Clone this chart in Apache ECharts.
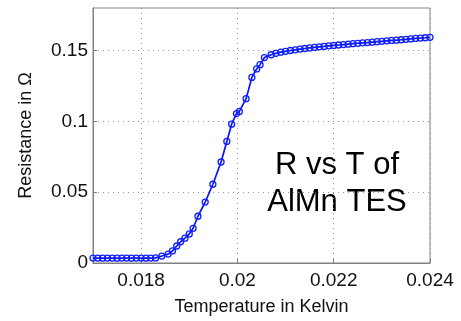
<!DOCTYPE html>
<html>
<head>
<meta charset="utf-8">
<script src="https://cdn.jsdelivr.net/npm/echarts@6/dist/echarts.min.js"></script>
<style>html,body{margin:0;padding:0;background:#fff}#c{width:461px;height:321px}</style>
</head>
<body>
<div id="c"></div>
<script>
// Temperature (K) and resistance (Ohm)
const temperature = [
  0.0170,0.0171,0.0172,0.0173,0.0174,0.0175,0.0176,0.0177,0.0178,0.0179,0.0180,0.0181,0.0182,0.0183,
  0.01843,0.01856,0.01865,0.01874,0.01882,0.01891,0.01900,0.01908,0.01918,0.01933,0.01949,0.01966,
  0.01978,0.01988,0.01998,0.02004,0.02018,0.02030,0.02040,0.02047,0.02056,
  0.0207,0.0208,0.0209,0.0210,0.0211,0.0212,0.0213,0.0214,0.0215,0.0216,0.0217,0.0218,0.0219,0.0220,
  0.0221,0.0222,0.0223,0.0224,0.0225,0.0226,0.0227,0.0228,0.0229,0.0230,0.0231,0.0232,0.0233,0.0234,
  0.0235,0.0236,0.0237,0.0238,0.0239,0.0240
];
const resistance = [
  0.0035,0.0035,0.0034,0.0035,0.0035,0.0034,0.0035,0.0035,0.0034,0.0035,0.0035,0.0034,0.0035,0.0036,
  0.0049,0.0063,0.0085,0.0120,0.0150,0.0175,0.0205,0.0245,0.0330,0.0430,0.0556,0.0713,
  0.0858,0.0980,0.1055,0.1070,0.1160,0.1310,0.1370,0.1400,0.1450,
  0.1470,0.1480,0.1488,0.1494,0.1500,0.1505,0.1510,0.1514,0.1518,0.1522,0.1526,0.1529,0.1533,0.1536,
  0.1539,0.1542,0.1545,0.1548,0.1551,0.1554,0.1556,0.1559,0.1562,0.1565,0.1568,0.1571,0.1573,0.1576,
  0.1579,0.1582,0.1585,0.1588,0.1590,0.1593
];
const xTicks = [0.018, 0.020, 0.022, 0.024];
const yTicks = [0, 0.05, 0.1, 0.15];

const points = temperature.map((t, i) => [t, resistance[i]]);
const font = 'Liberation Sans, Arial, sans-serif';
const chart = echarts.init(document.getElementById('c'), null, {renderer: 'canvas'});
chart.setOption({
  animation: false,
  backgroundColor: '#fff',
  grid: {left: 93, right: 31, top: 8, bottom: 56, show: true, borderColor: '#808080', borderWidth: 1, backgroundColor: '#fff'},
  xAxis: {
    type: 'value', min: 0.017, max: 0.024,
    name: 'Temperature in Kelvin', nameLocation: 'middle', nameGap: 35,
    nameTextStyle: {fontFamily: font, fontSize: 18, color: '#111'},
    axisLine: {show: true, lineStyle: {color: '#808080'}},
    axisTick: {show: true, inside: true, length: 4, customValues: xTicks, lineStyle: {color: '#808080'}},
    axisLabel: {customValues: xTicks, fontFamily: font, fontSize: 19, color: '#111', margin: 8,
      formatter: v => String(+v.toFixed(3))},
    splitLine: {show: true, lineStyle: {type: [1, 4], color: '#999'}}
  },
  yAxis: {
    type: 'value', min: 0, max: 0.18,
    name: 'Resistance in \u03A9', nameLocation: 'middle', nameGap: 58,
    nameTextStyle: {fontFamily: font, fontSize: 18, color: '#111'},
    axisLine: {show: true, lineStyle: {color: '#808080'}},
    axisTick: {show: true, inside: true, length: 4, customValues: yTicks, lineStyle: {color: '#808080'}},
    axisLabel: {customValues: yTicks, fontFamily: font, fontSize: 19, color: '#111', margin: 5,
      formatter: v => String(+v.toFixed(2))},
    splitLine: {show: true, lineStyle: {type: [1, 4], color: '#999'}}
  },
  series: [{
    type: 'line', data: points,
    symbol: 'circle', symbolSize: 6,
    lineStyle: {color: '#0a14ff', width: 1.7},
    itemStyle: {color: 'rgba(0,0,0,0)', borderColor: '#1020ff', borderWidth: 1.3}
  }],
  graphic: [{
    type: 'text', x: 337, y: 147,
    style: {text: 'R vs T of\nAlMn TES', font: '31px ' + font, fill: '#000', lineHeight: 37, align: 'center', verticalAlign: 'top'}
  }]
});
</script>
</body>
</html>
